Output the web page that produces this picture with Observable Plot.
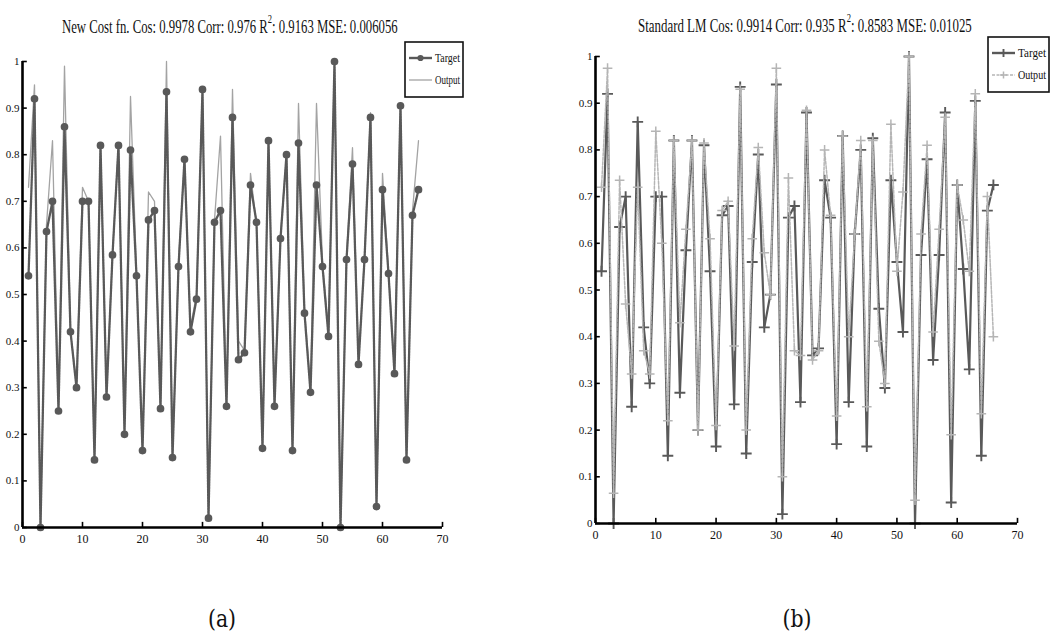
<!DOCTYPE html>
<html><head><meta charset="utf-8">
<script src="https://cdn.jsdelivr.net/npm/d3@7"></script>
<script src="https://cdn.jsdelivr.net/npm/@observablehq/plot@0.6"></script>
<style>
html,body{margin:0;padding:0;background:#fff;}
#root{position:relative;width:1050px;height:639px;overflow:hidden;font-family:"Liberation Serif","DejaVu Serif",serif;}
.panel{position:absolute;}
#overlay{position:absolute;left:0;top:0;pointer-events:none;}
</style></head><body><div id="root"></div>
<script>
// ---- data (sample index 1..66) ----
const target = [0.54,0.92,0.00,0.635,0.70,0.25,0.86,0.42,0.30,0.70,0.70,0.145,0.82,0.28,0.585,0.82,0.20,0.81,0.54,0.165,
  0.66,0.68,0.255,0.935,0.15,0.56,0.79,0.42,0.49,0.94,0.02,0.655,0.68,0.26,0.88,0.36,0.375,0.735,0.655,0.17,
  0.83,0.26,0.62,0.80,0.165,0.825,0.46,0.29,0.735,0.56,0.41,1.00,0.00,0.575,0.78,0.35,0.575,0.88,0.045,0.725,
  0.545,0.33,0.905,0.145,0.67,0.725];
const outputNew = [0.73,0.95,0.00,0.65,0.83,0.26,0.99,0.42,0.31,0.73,0.70,0.15,0.82,0.29,0.59,0.82,0.21,0.925,0.55,0.17,
  0.72,0.70,0.26,1.00,0.15,0.57,0.79,0.43,0.50,0.94,0.02,0.66,0.84,0.27,0.94,0.40,0.38,0.76,0.65,0.18,
  0.83,0.27,0.63,0.80,0.17,0.91,0.47,0.30,0.91,0.57,0.42,1.00,0.00,0.58,0.815,0.36,0.58,0.89,0.05,0.76,
  0.55,0.34,0.91,0.15,0.68,0.83];
const outputLM = [0.72,0.975,0.065,0.735,0.47,0.32,0.72,0.37,0.32,0.84,0.60,0.22,0.82,0.43,0.63,0.82,0.20,0.815,0.61,0.21,
  0.67,0.69,0.38,0.93,0.20,0.61,0.805,0.58,0.49,0.975,0.10,0.74,0.37,0.36,0.885,0.35,0.37,0.80,0.66,0.23,
  0.83,0.40,0.62,0.82,0.25,0.82,0.39,0.30,0.855,0.54,0.71,1.00,0.05,0.62,0.81,0.41,0.63,0.87,0.19,0.725,
  0.65,0.54,0.92,0.235,0.70,0.40];
const xTicks = [0,10,20,30,40,50,60,70];
const xTickLabels = ["0","10","20","30","40","50","60","70"];
const yTicks = [0,0.1,0.2,0.3,0.4,0.5,0.6,0.7,0.8,0.9,1];
const yTickLabels = ["0","0.1","0.2","0.3","0.4","0.5","0.6","0.7","0.8","0.9","1"];
const titleA = {pre:"New Cost fn. Cos: 0.9978 Corr: 0.976 R", post:": 0.9163 MSE: 0.006056"};
const titleB = {pre:"Standard LM Cos: 0.9914 Corr: 0.935 R", post:": 0.8583 MSE: 0.01025"};
const seriesNames = ["Target","Output"];
const captions = ["(a)","(b)"];

const DARK = "#595959", LIGHT_A = "#a3a3a3", LIGHT_B = "#b5b5b5";
const root = document.getElementById("root");

function frameMarks() {
  return [
    Plot.ruleY([0], {x1: 0, x2: 70, stroke: "#000", strokeWidth: 2.6}),
    Plot.ruleX([0], {y1: 0, y2: 1, stroke: "#000", strokeWidth: 2.6}),
    Plot.ruleY(yTicks, {y: d => d, x1: 0, x2: 0.8, stroke: "#000", strokeWidth: 1.6}),
    Plot.ruleX(xTicks, {x: d => d, y1: 0, y2: 0.011, stroke: "#000", strokeWidth: 1.6}),
    Plot.axisX(xTicks, {tickSize: 0, tickPadding: 7, fontSize: 12, tickFormat: d => xTickLabels[xTicks.indexOf(d)], label: null}),
    Plot.axisY(yTicks, {tickSize: 0, tickPadding: 3, fontSize: 11, tickFormat: d => yTickLabels[yTicks.indexOf(d)], label: null})
  ];
}

function makePanel(output, kind, left, top, mt, ml) {
  const rows = target.map((t, i) => ({i: i + 1, t, o: output[i]}));
  let marks;
  if (kind === "a") {
    marks = [
      Plot.line(rows, {x: "i", y: "o", stroke: LIGHT_A, strokeWidth: 1.3}),
      Plot.line(rows, {x: "i", y: "t", stroke: DARK, strokeWidth: 2.3, strokeDasharray: "2,0.8"}),
      Plot.dot(rows, {x: "i", y: "t", r: 3.1, fill: DARK, stroke: DARK})
    ];
  } else {
    marks = [
      Plot.line(rows, {x: "i", y: "t", stroke: DARK, strokeWidth: 2.2}),
      Plot.dot(rows, {x: "i", y: "t", symbol: "plus", r: 3.6, stroke: DARK, strokeWidth: 1.9}),
      Plot.line(rows, {x: "i", y: "o", stroke: LIGHT_B, strokeWidth: 1.5, strokeDasharray: "3,1.5"}),
      Plot.dot(rows, {x: "i", y: "o", symbol: "plus", r: 3.2, stroke: LIGHT_B, strokeWidth: 1.5})
    ];
  }
  const chart = Plot.plot({
    width: 472, height: 537,
    marginLeft: ml, marginRight: 30, marginTop: mt, marginBottom: 40,
    x: {domain: [0, 70]},
    y: {domain: [0, 1]},
    style: {fontFamily: '"Liberation Serif", serif', fontSize: "12px", background: "transparent", color: "#111"},
    marks: [...marks, ...frameMarks()]
  });
  chart.classList.add("panel");
  chart.style.left = left + "px";
  chart.style.top = top + "px";
  root.appendChild(chart);
}

makePanel(outputNew, "a", 0, 30, 31, 22);
makePanel(outputLM, "b", 575, 26, 30, 20);

// ---- overlay: titles, legends, captions ----
const NS = "http://www.w3.org/2000/svg";
const svg = document.createElementNS(NS, "svg");
svg.setAttribute("id", "overlay");
svg.setAttribute("width", 1050); svg.setAttribute("height", 639);
root.appendChild(svg);
function el(name, attrs, parent) {
  const e = document.createElementNS(NS, name);
  for (const k in attrs) e.setAttribute(k, attrs[k]);
  (parent || svg).appendChild(e);
  return e;
}
function squeeze(textEl, x, width) {
  const w = textEl.getComputedTextLength();
  const s = width / w;
  textEl.setAttribute("transform", `translate(${x},0) scale(${s},1) translate(${-x},0)`);
}
function title(t, x, y, width) {
  const txt = el("text", {x, y, "font-size": 18, "font-family": '"Liberation Serif", serif', fill: "#111"});
  txt.appendChild(document.createTextNode(t.pre));
  const sup = el("tspan", {dy: -10, "font-size": 12}, txt);
  sup.textContent = "2";
  const rest = el("tspan", {dy: 10}, txt);
  rest.textContent = t.post;
  squeeze(txt, x, width);
}
title(titleA, 62, 33, 336);
title(titleB, 638, 32, 334);

function legend(x0, y0, w, h, kind) {
  el("rect", {x: x0, y: y0, width: w, height: h, fill: "#fff", stroke: "#111", "stroke-width": 1.6});
  const rowsY = [y0 + 16, y0 + 38];
  el("line", {x1: x0 + 4, x2: x0 + 27, y1: rowsY[0], y2: rowsY[0], stroke: DARK, "stroke-width": 2.4});
  if (kind === "a") {
    el("circle", {cx: x0 + 15.5, cy: rowsY[0], r: 3.1, fill: DARK});
    el("line", {x1: x0 + 4, x2: x0 + 27, y1: rowsY[1], y2: rowsY[1], stroke: LIGHT_A, "stroke-width": 1.3});
  } else {
    el("path", {d: `M${x0 + 15.5 - 4},${rowsY[0]}h8M${x0 + 15.5},${rowsY[0] - 4}v8`, stroke: DARK, "stroke-width": 1.9});
    el("line", {x1: x0 + 4, x2: x0 + 27, y1: rowsY[1], y2: rowsY[1], stroke: LIGHT_B, "stroke-width": 1.5, "stroke-dasharray": "3,1.5"});
    el("path", {d: `M${x0 + 15.5 - 3.5},${rowsY[1]}h7M${x0 + 15.5},${rowsY[1] - 3.5}v7`, stroke: LIGHT_B, "stroke-width": 1.5});
  }
  seriesNames.forEach((n, i) => {
    const t = el("text", {x: x0 + 30, y: rowsY[i] + 4.5, "font-size": 13, "font-family": '"Liberation Serif", serif', fill: "#111"});
    t.textContent = n;
    squeeze(t, x0 + 30, w - 33);
  });
}
legend(405, 42, 58, 55, "a");
legend(988, 37, 61, 55, "b");

[[222, captions[0]], [797, captions[1]]].forEach(([x, c]) => {
  const t = el("text", {x, y: 627, "text-anchor": "middle", "font-size": 24, "font-family": '"DejaVu Serif", serif', fill: "#111"});
  t.textContent = c;
  t.setAttribute("transform", `translate(${x},0) scale(0.85,1) translate(${-x},0)`);
});
</script></body></html>
